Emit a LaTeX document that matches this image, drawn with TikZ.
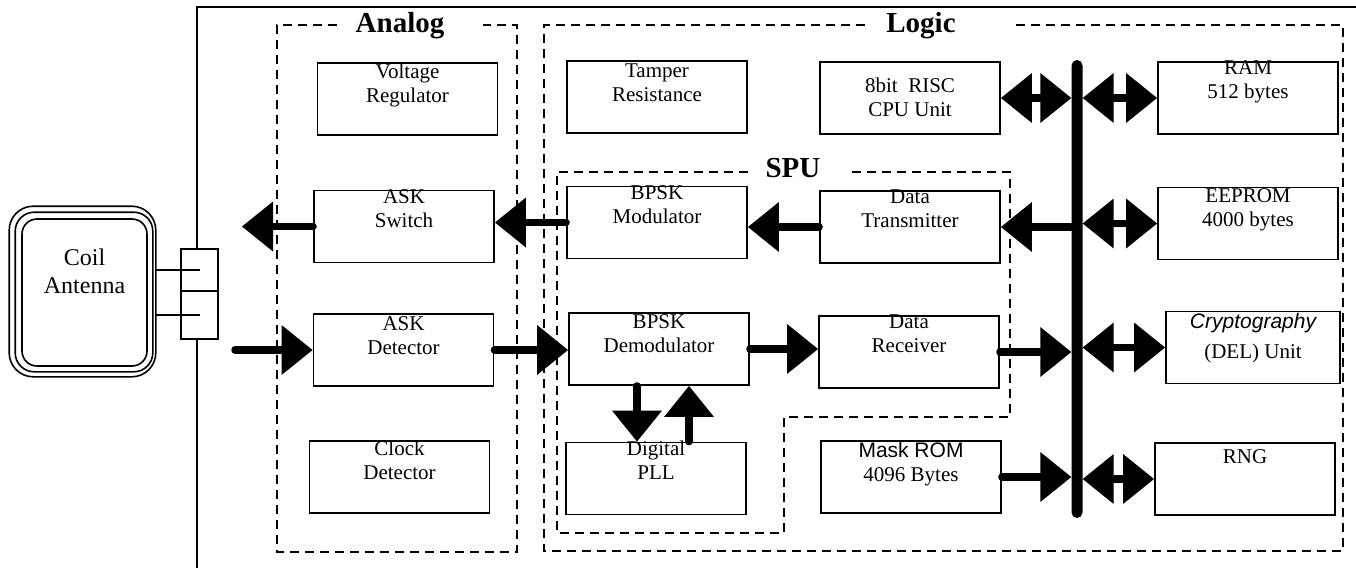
\documentclass[tikz,border=0pt]{standalone}
\usepackage{fontspec}
\setmainfont{Liberation Serif}
\newfontfamily\arialfont{Liberation Sans}
\usetikzlibrary{arrows.meta}
\newcommand{\mytab}[1]{\begin{tabular}[t]{@{}c@{}}#1\end{tabular}}
\begin{document}
\begin{tikzpicture}[x=1pt,y=-1pt,
  box/.style={draw, line width=1.9pt, minimum width=180pt, minimum height=72pt,
    inner ysep=0pt, inner xsep=2pt, font=\fontsize{21}{24}\selectfont,
    text height=#1pt, text depth={72pt-#1pt}},
  box/.default=14,
  grp/.style={line width=1.9pt, dash pattern=on 9pt off 6pt},
  ttl/.style={font=\fontsize{29}{32}\selectfont\bfseries, anchor=base, inner sep=0pt},
  conn/.style={line width=7.5pt, line cap=round,
    >={Triangle[length=31pt,width=50pt,line width=0pt]}},
  frame/.style={line width=2.4pt},
  thinl/.style={line width=1.6pt}]
\useasboundingbox (0,0) rectangle (1356,568);

% outer frame
\draw[frame] (197,249) -- (197,7) -- (1356,7);
\draw[frame] (197,339) -- (197,568);

% group boxes
\draw[grp] (337,25) -- (277,25) -- (277,552) -- (517,552) -- (517,25) -- (483,25);
\draw[grp] (865,25) -- (544,25) -- (544,551) -- (1343,551) -- (1343,25) -- (1013,25);
\draw[grp] (748,172) -- (557,172) -- (557,533) -- (784,533) -- (784,417) -- (1010,417) -- (1010,172) -- (852,172);
\node[ttl] (tAnalog) at (400,32) {Analog};
\node[ttl] (tLogic) at (921,32) {Logic};
\node[ttl] (tSPU) at (793,177) {SPU};

% antenna
\node[draw, thinl, rounded corners=15pt, minimum width=125pt, minimum height=147pt,
  inner sep=0pt, font=\fontsize{24}{28}\selectfont, text height=46pt, text depth=101pt]
  (ant) at (84.5,292.5) {\mytab{Coil\\Antenna}};
\draw[thinl, rounded corners=19pt] ([shift={(-6,-6)}]ant.north west) rectangle ([shift={(5,5)}]ant.south east);
\draw[thinl, rounded corners=24pt] ([shift={(-12,-12)}]ant.north west) rectangle ([shift={(8,10)}]ant.south east);
\coordinate (antR) at ([xshift=8pt]ant.east);

% connector
\node[draw, line width=1.9pt, minimum width=37pt, minimum height=42pt, inner sep=0pt] (conA) at (199.5,270) {};
\node[draw, line width=1.9pt, minimum width=37pt, minimum height=48pt, inner sep=0pt] (conB) at (199.5,315) {};
\draw[thinl] (antR |- conA.center) -- (conA.center);
\draw[thinl] (antR |- conB.center) -- (conB.center);

% analog blocks
\node[box=15] (vr) at (407.5,99) {\mytab{Voltage\\Regulator}};
\node[box=13] (askSw) at (404,226.5) {\mytab{ASK\\Switch}};
\node[box=16] (askDet) at (403.5,350) {\mytab{ASK\\Detector}};
\node[box=14] (clk) at (399.5,477) {\mytab{Clock\\Detector}};

% logic blocks
\node[box=16] (tamper) at (657,97) {\mytab{Tamper\\Resistance}};
\node[box=30] (cpu) at (910,98) {\mytab{8bit~~RISC\\CPU Unit}};
\node[box=12] (ram) at (1248,98) {\mytab{RAM\\512 bytes}};
\node[box=13] (mod) at (657,222.5) {\mytab{BPSK\\Modulator}};
\node[box=12] (dtx) at (910,227) {\mytab{Data\\Transmitter}};
\node[box=15] (eep) at (1248,223.5) {\mytab{EEPROM\\4000 bytes}};
\node[box=15] (demod) at (659,349) {\mytab{BPSK\\Demodulator}};
\node[box=12] (drx) at (909,352) {\mytab{Data\\Receiver}};
\node[box=17, minimum width=174pt] (crypto) at (1253,347.5) {\mytab{{\arialfont\itshape Cryptography}\\[6pt](DEL) Unit}};
\node[box=13] (pll) at (656,478.5) {\mytab{Digital\\PLL}};
\node[box=16] (mask) at (911,477) {\mytab{{\arialfont Mask ROM}\\4096 Bytes}};
\node[box=20] (rng) at (1245,479) {\mytab{RNG}};

% bus
\node[fill=black, minimum width=11pt, minimum height=458pt, inner sep=0pt, rounded corners=5.5pt] (bus) at (1077,289) {};

% connectors
\coordinate (out1) at (242,226.5);
\coordinate (in1) at (235,350);
\draw[conn,->] (askSw.west) -- (out1);
\draw[conn,->] (in1) -- (askDet.west);
\draw[conn,->] (askDet.east) -- (askDet.east -| demod.west);
\draw[conn,->] (mod.west) -- (mod.west -| askSw.east);
\draw[conn,->] (dtx.west) -- (dtx.west -| mod.east);
\draw[conn,->] (demod.east) -- (demod.east -| drx.west);
\coordinate (dA) at ([xshift=-22pt]demod.south);
\coordinate (pA) at ([xshift=33pt]pll.north);
\draw[conn,->] (dA) -- (dA |- pll.north);
\draw[conn,->] (pA) -- (pA |- demod.south);

\draw[conn,<->] (cpu.east) -- (cpu.east -| bus.west);
\draw[conn,<->] (ram.west -| bus.east) -- (ram.west);
\draw[conn,->] (dtx.east -| bus.west) -- (dtx.east);
\draw[conn,<->] (eep.west -| bus.east) -- (eep.west);
\draw[conn,->] (drx.east) -- (drx.east -| bus.west);
\draw[conn,<->] (crypto.west -| bus.east) -- (crypto.west);
\draw[conn,->] (mask.east) -- (mask.east -| bus.west);
\draw[conn,<->] (rng.west -| bus.east) -- (rng.west);
\end{tikzpicture}
\end{document}
